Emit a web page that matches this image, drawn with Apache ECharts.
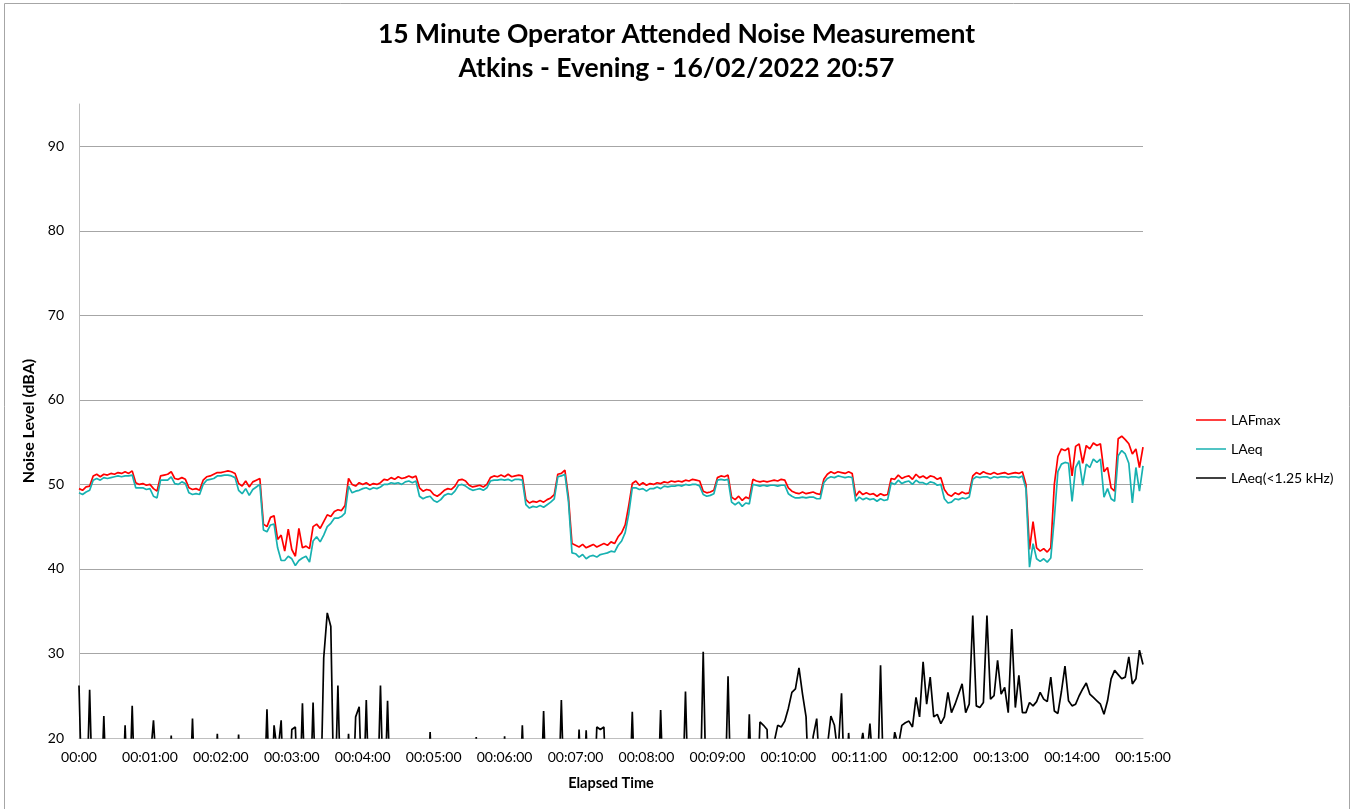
<!DOCTYPE html>
<html>
<head>
<meta charset="utf-8">
<script src="https://cdn.jsdelivr.net/npm/echarts@6/dist/echarts.min.js"></script>
<style>
html,body{margin:0;padding:0;background:#fff;}
#chart{width:1353px;height:809px;}
</style>
</head>
<body>
<div id="chart"></div>
<script>
var stepSeconds = 3;
var xTickLabels = ['00:00','00:01:00','00:02:00','00:03:00','00:04:00','00:05:00','00:06:00','00:07:00',
  '00:08:00','00:09:00','00:10:00','00:11:00','00:12:00','00:13:00','00:14:00','00:15:00'];
var seriesNames = ['LAFmax','LAeq','LAeq(<1.25 kHz)'];

var lafmax = [
49.5,49.3,49.7,49.8,51.0,51.2,50.9,51.2,51.1,51.3,
51.2,51.4,51.3,51.5,51.3,51.6,50.2,50.0,50.1,49.9,
50.0,49.5,49.2,51.0,51.1,51.2,51.5,50.7,50.6,50.8,
50.6,49.6,49.4,49.5,49.3,50.5,50.9,51.0,51.2,51.4,
51.4,51.5,51.6,51.5,51.3,50.1,49.8,50.4,49.7,50.3,
50.5,50.7,45.3,45.0,46.1,46.3,43.5,44.0,42.1,44.7,
42.3,41.5,44.8,42.5,42.7,42.4,45.0,45.3,44.8,45.6,
46.4,46.2,46.8,47.0,46.9,47.5,50.7,50.0,49.8,50.2,
50.0,50.2,49.9,50.1,50.0,50.2,50.6,50.5,50.8,50.6,
50.9,50.7,50.8,51.0,50.8,51.0,49.6,49.2,49.4,49.3,
48.8,48.6,48.9,49.3,49.5,49.4,49.8,50.5,50.6,50.4,
49.9,49.7,49.8,49.9,49.7,50.0,50.8,51.0,50.9,51.1,
50.9,51.2,50.9,51.0,51.1,51.0,48.2,47.8,48.0,47.9,
48.1,47.9,48.2,48.4,48.8,51.2,51.3,51.7,48.5,43.0,
42.8,42.6,42.9,42.5,42.7,42.9,42.6,42.8,43.0,42.8,
43.2,43.0,43.8,44.3,45.2,47.5,50.1,50.4,49.9,50.2,
49.9,50.1,50.0,50.2,50.1,50.3,50.2,50.4,50.3,50.4,
50.3,50.5,50.4,50.6,50.5,50.4,49.2,49.0,49.1,49.3,
50.8,51.0,50.9,51.1,48.5,48.2,48.6,48.1,48.5,48.3,
50.6,50.4,50.3,50.4,50.3,50.4,50.5,50.4,50.6,50.5,
49.6,49.2,49.0,48.9,49.1,48.9,49.0,49.1,48.9,48.8,
50.6,51.2,51.5,51.3,51.5,51.4,51.3,51.5,51.3,48.6,
49.2,48.8,49.0,48.8,48.9,48.6,48.9,48.7,48.8,50.7,
50.6,51.1,50.7,50.9,51.0,50.6,51.2,50.8,51.0,50.7,
51.0,50.9,50.6,50.8,49.4,48.8,48.6,49.0,48.8,49.1,
48.9,49.0,51.0,51.4,51.2,51.5,51.3,51.2,51.4,51.2,
51.3,51.4,51.2,51.3,51.4,51.3,51.5,50.0,42.3,45.6,
42.5,42.1,42.4,42.0,42.5,50.0,53.3,54.2,54.0,54.3,
51.0,54.5,54.8,52.5,54.6,54.2,54.9,54.6,54.8,51.5,
52.0,49.6,49.2,55.4,55.7,55.3,54.8,53.6,54.2,52.0,
54.4
];

var laeq = [
49.0,48.8,49.1,49.3,50.5,50.7,50.5,50.8,50.7,50.8,
50.9,51.0,50.9,51.0,51.0,51.1,49.6,49.6,49.6,49.4,
49.5,48.6,48.4,50.5,50.5,50.5,50.9,50.1,50.0,50.3,
50.1,49.0,48.8,48.9,48.8,50.0,50.5,50.6,50.7,51.0,
51.0,51.1,51.1,51.0,50.8,49.3,48.9,49.5,48.7,49.4,
49.7,50.0,44.6,44.4,45.2,45.3,42.5,41.0,41.0,41.5,
41.2,40.4,41.0,41.3,41.5,40.8,43.3,43.8,43.2,44.0,
45.0,45.4,46.0,46.0,46.2,46.6,49.8,49.0,49.2,49.3,
49.5,49.6,49.4,49.6,49.5,49.7,50.0,50.0,50.2,50.1,
50.2,50.0,50.3,50.4,50.2,50.4,48.6,48.3,48.5,48.6,
48.1,47.9,48.2,48.7,48.9,48.8,49.2,49.9,50.0,49.8,
49.5,49.3,49.4,49.5,49.3,49.6,50.4,50.5,50.5,50.6,
50.5,50.6,50.4,50.6,50.6,50.5,47.6,47.2,47.4,47.3,
47.5,47.3,47.6,47.9,48.3,50.9,51.0,51.2,48.0,41.9,
41.8,41.4,41.7,41.2,41.5,41.6,41.4,41.7,41.8,41.9,
42.1,42.0,42.8,43.3,44.3,46.5,49.6,49.6,49.4,49.5,
49.2,49.5,49.5,49.7,49.5,49.8,49.7,49.8,49.8,49.9,
49.8,50.0,49.9,50.0,50.0,49.8,48.8,48.6,48.7,48.9,
50.5,50.6,50.5,50.6,47.9,47.6,47.9,47.4,47.8,47.7,
50.0,49.9,49.8,49.9,49.8,49.9,49.9,49.8,49.9,49.9,
48.9,48.6,48.4,48.4,48.5,48.4,48.5,48.5,48.3,48.3,
50.2,50.7,50.9,50.8,51.0,50.9,50.8,50.9,50.8,48.0,
48.5,48.2,48.4,48.2,48.3,48.0,48.3,48.1,48.2,50.2,
50.0,50.5,50.1,50.3,50.4,50.0,50.5,50.2,50.2,50.0,
50.3,50.2,49.9,50.0,48.3,47.8,47.9,48.3,48.2,48.4,
48.3,48.5,50.6,50.9,50.8,50.9,50.9,50.7,50.9,50.8,
50.9,50.9,50.8,50.9,50.9,50.8,51.0,49.5,40.2,43.0,
41.2,40.9,41.2,40.8,41.3,46.0,51.5,52.4,52.6,52.5,
48.0,52.0,52.8,49.9,52.4,52.0,53.0,52.6,53.0,48.5,
49.5,48.3,48.0,53.4,54.0,53.6,52.5,47.8,52.0,49.2,
52.2
];

// 10 = below the 20 dB axis floor (clipped off the plot, as in the reference)
var laeqLow = [
26.2,10,10,25.7,10,10,10,22.6,10,10,
10,10,10,21.5,10,23.8,10,10,10,10,
17,22.1,15,10,10,10,20.3,10,10,10,
10,10,22.3,10,10,10,10,10,10,20.5,
10,10,10,10,10,20.4,10,10,10,10,
10,10,10,23.4,10,21.5,18,22.1,10,10,
21.0,21.3,10,24.1,10,10,24.2,10,10,29.5,
34.8,33.2,10,26.2,10,10,20.5,10,22.5,23.7,
10,24.5,10,10,10,26.2,10,24.4,10,10,
10,10,10,10,10,10,10,10,10,20.7,
10,10,10,10,10,10,10,10,10,10,
10,10,20.1,10,10,10,10,10,10,10,
20.2,10,10,10,10,21.5,10,10,10,10,
10,23.2,10,10,10,10,24.5,10,10,10,
10,21.0,10,20.9,10,10,21.3,21.0,21.3,10,
10,10,10,10,10,10,23.1,10,10,10,
10,10,10,10,23.3,10,10,10,10,10,
10,25.5,10,10,10,10,30.2,10,10,10,
10,10,10,27.3,10,10,10,10,10,22.8,
10,10,21.9,21.5,21.0,10,19.5,21.5,21.3,22.0,
23.5,25.4,25.8,28.3,25.2,22.5,12,20.2,22.3,15,
10,19,22.6,21.5,18,25.3,12,20.6,14,12,
18,20.6,17,21.7,16,12,28.6,12,10,17,
20.7,19,21.5,21.8,22.0,21.3,24.8,22.5,29.0,24.0,
27.2,22.5,22.8,21.7,22.5,25.4,23.0,24.0,25.2,26.4,
23.0,24.0,34.5,23.8,23.6,24.2,34.5,24.6,25.0,29.2,
25.2,26.0,23.0,32.9,23.6,27.4,23.0,23.0,24.2,23.8,
24.3,25.4,24.6,24.3,27.2,23.2,22.9,25.5,28.5,24.4,
23.8,24.0,25.0,25.8,26.5,25.2,24.8,24.4,24.0,22.8,
24.4,27.0,28.0,27.5,27.0,27.2,29.6,26.4,27.0,30.4,
28.7
];

function toPairs(arr){
  return arr.map(function(v,i){ return [i*stepSeconds, v]; });
}

var FONT = 'Lato, "Open Sans", sans-serif';
var chart = echarts.init(document.getElementById('chart'), null, {renderer:'canvas'});
chart.setOption({
  backgroundColor: '#ffffff',
  animation: false,
  title: {
    text: '15 Minute Operator Attended Noise Measurement\nAtkins - Evening - 16/02/2022 20:57',
    left: 'center',
    top: 12,
    textStyle: {fontFamily: FONT, fontSize: 26.5, fontWeight: 'bold', color: '#000', lineHeight: 34}
  },
  graphic: [{
    type: 'rect',
    shape: {x: 4.5, y: 3.5, width: 1345, height: 820},
    style: {fill: 'none', stroke: '#a6a6a6', lineWidth: 1},
    silent: true
  }],
  legend: {
    orient: 'vertical',
    left: 1191,
    top: 408,
    itemWidth: 30,
    itemHeight: 14,
    itemGap: 15,
    icon: 'path://M0,6.5 L30,6.5 L30,8 L0,8 Z',
    textStyle: {fontFamily: FONT, fontSize: 14, color: '#000', lineHeight: 14},
    data: seriesNames
  },
  grid: {left: 79, right: 210, top: 104, bottom: 71, containLabel: false},
  xAxis: {
    type: 'value',
    min: 0, max: 900, interval: 60,
    name: 'Elapsed Time',
    nameLocation: 'middle',
    nameGap: 38,
    nameTextStyle: {fontFamily: FONT, fontSize: 14.5, fontWeight: 'bold', color: '#000'},
    axisLine: {show: true, lineStyle: {color: '#bfbfbf', width: 1}},
    axisTick: {show: false},
    splitLine: {show: false},
    axisLabel: {
      fontFamily: FONT, fontSize: 14, color: '#000', margin: 12,
      formatter: function(v){ return xTickLabels[Math.round(v/60)] || ''; }
    }
  },
  yAxis: {
    type: 'value',
    min: 20, max: 95, interval: 10,
    name: 'Noise Level (dBA)',
    nameLocation: 'middle',
    nameGap: 38,
    nameRotate: 90,
    nameTextStyle: {fontFamily: FONT, fontSize: 16, fontWeight: 'bold', color: '#000'},
    axisLine: {show: true, lineStyle: {color: '#bfbfbf', width: 1}},
    axisTick: {show: false},
    axisLabel: {fontFamily: FONT, fontSize: 14, color: '#000', margin: 15, showMaxLabel: false},
    splitLine: {show: true, showMaxLine: false, showMinLine: false, lineStyle: {color: '#a6a6a6', width: 1}}
  },
  series: [
    {name: seriesNames[0], type: 'line', data: toPairs(lafmax), showSymbol: false, symbol: 'none',
     lineStyle: {color: '#ff0000', width: 1.7}, itemStyle: {color: '#ff0000'}, clip: true},
    {name: seriesNames[1], type: 'line', data: toPairs(laeq), showSymbol: false, symbol: 'none',
     lineStyle: {color: '#17b1b1', width: 1.7}, itemStyle: {color: '#17b1b1'}, clip: true},
    {name: seriesNames[2], type: 'line', data: toPairs(laeqLow), showSymbol: false, symbol: 'none',
     lineStyle: {color: '#000000', width: 1.7}, itemStyle: {color: '#000000'}, clip: true}
  ]
});
</script>
</body>
</html>
